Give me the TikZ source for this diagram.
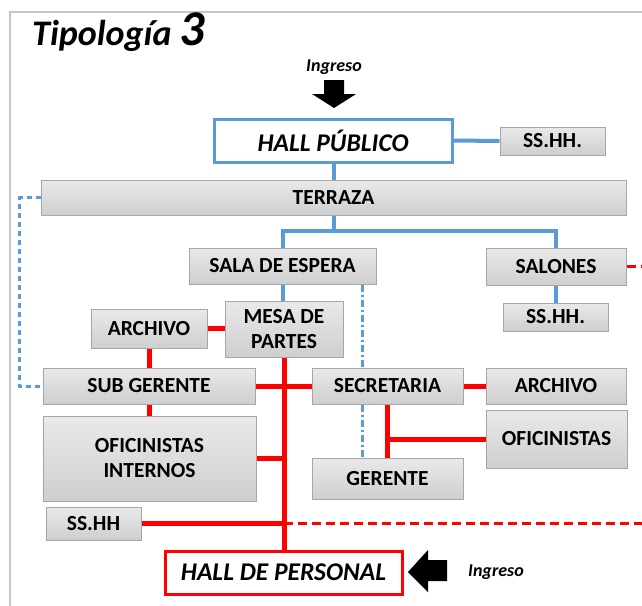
\documentclass[tikz,border=0pt]{standalone}
\usepackage{fontspec}
\setmainfont{Carlito}
\usetikzlibrary{positioning}

\definecolor{linkblue}{RGB}{91,155,213}
\definecolor{boxline}{RGB}{166,166,166}

\tikzset{
  room/.style={draw=boxline, line width=1pt, top color=gray!17, bottom color=gray!38,
    font=\bfseries\fontsize{21.5}{25}\selectfont, align=center, inner sep=0pt},
  hall/.style={draw=#1, line width=3pt, fill=white,
    font=\bfseries\itshape\fontsize{25.5}{27}\selectfont, inner sep=0pt},
  ingreso/.style={font=\bfseries\itshape\fontsize{18}{20}\selectfont, inner sep=0pt},
  bluelink/.style={linkblue, line width=4pt},
  bluedash/.style={linkblue, line width=3pt, dash pattern=on 5pt off 4pt},
  bluedashdot/.style={linkblue, line width=3pt, dash pattern=on 7pt off 3pt on 2pt off 3pt},
  redlink/.style={red, line width=5pt},
  reddash/.style={red, line width=3.5pt, dash pattern=on 9pt off 5pt}
}

\begin{document}
\begin{tikzpicture}[x=1pt,y=-1pt]
    % Background
    \useasboundingbox (0,0) rectangle (642,605);
    \clip (0,0) rectangle (642,605);
    \fill[white] (0,0) rectangle (642,605);
    \draw[gray!45,line width=1.5pt] (10,12) rectangle (670,630);

    % Title
    \node[anchor=base west,inner sep=0pt,font=\bfseries\itshape\fontsize{36}{38}\selectfont] (title) at (32,45)
        {Tipología {\fontsize{50}{52}\selectfont 3}};

    % Entrances
    \node[ingreso] (ingtop) at (334,67) {Ingreso};
    \node[ingreso,anchor=west] (ingbot) at (468,572) {Ingreso};
    \coordinate (arrtop) at (334,108);
    \coordinate (arrbot) at (408,572);
    \fill (arrtop) -- ++(22,-14) -- ++(-12,0) -- ++(0,-14) -- ++(-20,0) -- ++(0,14) -- ++(-12,0) -- cycle;
    \fill (arrbot) -- ++(20,-22) -- ++(0,10) -- ++(19,0) -- ++(0,21) -- ++(-19,0) -- ++(0,11) -- cycle;

    % Halls
    \node[hall=linkblue,minimum width=238pt,minimum height=43pt] (hallpub) at (333,140.5) {HALL PÚBLICO};
    \node[hall=red,minimum width=237pt,minimum height=43pt] (hallper) at (283.5,572.5) {HALL DE PERSONAL};

    % Rooms
    \node[room,minimum width=105pt,minimum height=28pt] (sshhpub) at (552.5,141) {SS.HH.};
    \node[room,minimum width=585pt,minimum height=35pt] (terraza) at (333.5,197.5) {TERRAZA};
    \node[room,minimum width=187pt,minimum height=36pt] (espera) at (282.5,266) {SALA DE ESPERA};
    \node[room,minimum width=140pt,minimum height=37pt] (salones) at (556,266.5) {SALONES};
    \node[room,minimum width=105pt,minimum height=28pt] (sshhsal) at (555.5,317) {SS.HH.};
    \node[room,minimum width=118pt,minimum height=56pt] (mesa) at (284,329) {MESA DE\\PARTES};
    \node[room,minimum width=116pt,minimum height=39pt] (archsub) at (149,328.5) {ARCHIVO};
    \node[room,minimum width=212pt,minimum height=36pt] (subger) at (149,386) {SUB GERENTE};
    \node[room,minimum width=151pt,minimum height=36pt] (secre) at (387.5,386) {SECRETARIA};
    \node[room,minimum width=140pt,minimum height=36pt] (archsec) at (556,386) {ARCHIVO};
    \node[room,minimum width=141pt,minimum height=58pt] (ofic) at (556.5,439) {OFICINISTAS};
    \node[room,minimum width=151pt,minimum height=41pt] (gerente) at (387.5,478.5) {GERENTE};
    \node[room,minimum width=213pt,minimum height=85pt] (ofint) at (149.5,458.5) {OFICINISTAS\\INTERNOS};
    \node[room,minimum width=95pt,minimum height=33pt] (sshhper) at (93.5,523.5) {SS.HH};

    % Public circulation
    \coordinate (bus) at (334,231);
    \coordinate (dd) at (362,0);
    \draw[bluelink] (hallpub.east) -- (sshhpub.west);
    \draw[bluelink] (hallpub.south -| bus) -- (terraza.north -| bus);
    \draw[bluelink] (terraza.south -| bus) -- (bus);
    \draw[bluelink] (espera.north) |- (bus) -| (salones.north);
    \draw[bluelink] (salones.south) -- (salones.south |- sshhsal.north);
    \draw[bluelink] (espera.south) -- (espera.south |- mesa.north);
    \draw[bluedash] (terraza.west) -- ++(-21,0) |- (subger.west);
    \draw[bluedashdot] (espera.south -| dd) -- (secre.north -| dd);
    \draw[bluedashdot] (secre.south -| dd) -- (gerente.north -| dd);

    % Staff circulation
    \draw[redlink] (archsub.east) -- (archsub.east -| mesa.west);
    \draw[redlink] (archsub.south) -- (subger.north);
    \draw[redlink] (subger.south) -- (subger.south |- ofint.north);
    \draw[redlink] (subger.east) -- (secre.west);
    \draw[redlink] (secre.east) -- (archsec.west);
    \draw[redlink] (mesa.south) -- (mesa.south |- hallper.north);
    \draw[redlink] (secre.south) -- (gerente.north);
    \draw[redlink] (secre.south |- ofic.west) -- (ofic.west);
    \draw[redlink] (ofint.east) -- (ofint.east -| mesa.south);
    \draw[redlink] (sshhper.east) -- (sshhper.east -| mesa.south);
    \draw[reddash] (sshhper.east -| mesa.south) -- ++(380,0);
    \draw[reddash] (salones.east) -- ++(30,0);
\end{tikzpicture}
\end{document}
